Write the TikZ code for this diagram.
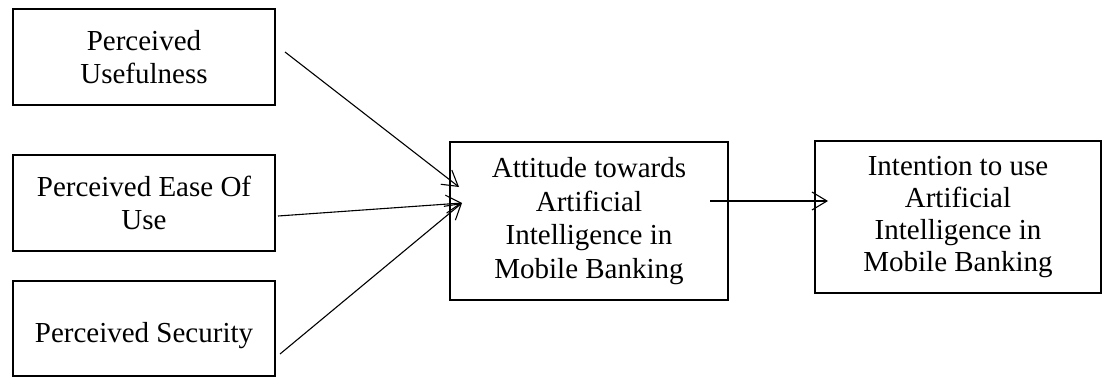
\documentclass[tikz,border=0pt]{standalone}
\usepackage{fontspec}
\setmainfont{Liberation Serif}
\usetikzlibrary{arrows.meta}
\begin{document}
\begin{tikzpicture}[x=1pt,y=-1pt,
  box/.style={draw, line width=2.8pt, inner sep=0pt, align=center,
    font=\fontsize{29}{33.5}\selectfont},
  conn/.style={line width=1.1pt, -{Straight Barb[length=15pt,width=18pt]}}]
\useasboundingbox (0,0) rectangle (1107,378);
\node[box, minimum width=262pt, minimum height=96pt] (pu) at (144,57) {Perceived\\Usefulness};
\node[box, minimum width=262pt, minimum height=96pt] (pe) at (144,203) {Perceived Ease Of\\Use};
\node[box, minimum width=262pt, text height=61pt, text depth=34pt] (ps) at (144,328.5) {Perceived Security};
\node[box, minimum width=278pt, minimum height=158pt] (at) at (589,221) {Attitude towards\\Artificial\\Intelligence in\\Mobile Banking};
\node[box, minimum width=286pt, minimum height=152pt, font=\fontsize{29}{32}\selectfont] (in) at (958,217) {Intention to use\\Artificial\\Intelligence in\\Mobile Banking};
\coordinate (s1) at (285,52);
\coordinate (t1) at (459,187);
\coordinate (s2) at (278,216);
\coordinate (t2) at (462,203);
\coordinate (s3) at (280,354);
\coordinate (s4) at (710,201);
\coordinate (t4) at (828,201);
\draw[conn] (s1) -- (t1);
\draw[conn] (s2) -- (t2);
\draw[conn] (s3) -- (t2);
\draw[conn] (s4) -- (t4);
\end{tikzpicture}
\end{document}
